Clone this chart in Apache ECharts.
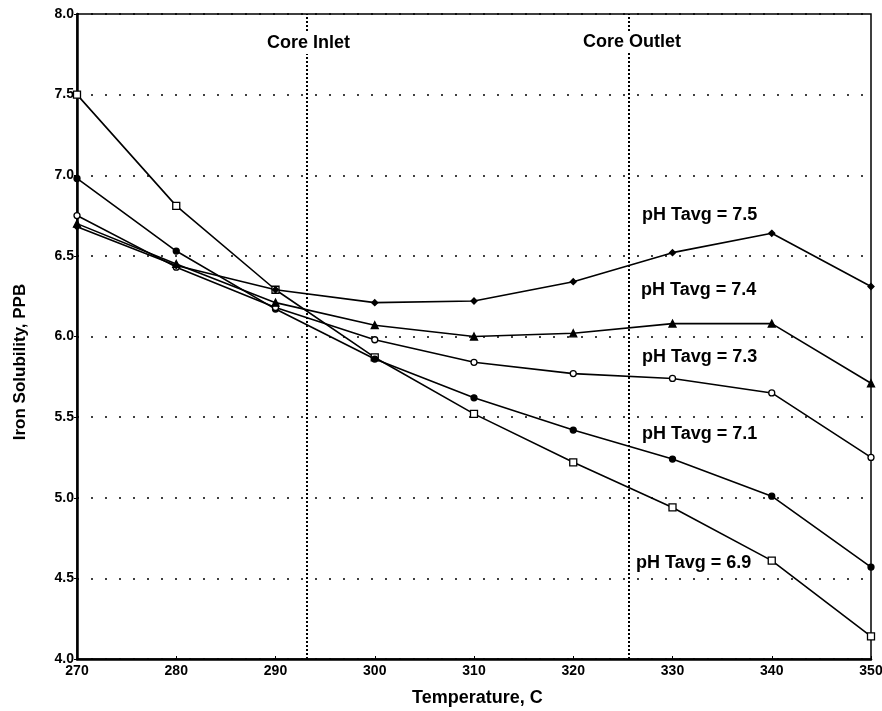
<!DOCTYPE html>
<html>
<head>
<meta charset="utf-8">
<script src="https://cdn.jsdelivr.net/npm/echarts@6/dist/echarts.min.js"></script>
<style>html,body{margin:0;padding:0;background:#fff}#c{width:882px;height:711px}</style>
</head>
<body>
<div id="c"></div>
<script>
var temps = [270, 280, 290, 300, 310, 320, 330, 340, 350];
var ph69 = [7.50, 6.81, 6.29, 5.87, 5.52, 5.22, 4.94, 4.61, 4.14];
var ph71 = [6.98, 6.53, 6.17, 5.86, 5.62, 5.42, 5.24, 5.01, 4.57];
var ph73 = [6.75, 6.43, 6.18, 5.98, 5.84, 5.77, 5.74, 5.65, 5.25];
var ph74 = [6.70, 6.45, 6.21, 6.07, 6.00, 6.02, 6.08, 6.08, 5.71];
var ph75 = [6.68, 6.44, 6.29, 6.21, 6.22, 6.34, 6.52, 6.64, 6.31];
var coreLines = [293.1, 325.6];
var coreNames = ['Core Inlet', 'Core Outlet'];
var seriesNames = ['pH Tavg = 6.9', 'pH Tavg = 7.1', 'pH Tavg = 7.3', 'pH Tavg = 7.4', 'pH Tavg = 7.5'];

function pairs(arr){ return temps.map(function(t,i){ return [t, arr[i]]; }); }
var FONT = '"Liberation Sans", Arial, sans-serif';
var chart = echarts.init(document.getElementById('c'));
function mk(name, data, symbol, size, fill){
  return {
    name: name, type: 'line', data: pairs(data), symbol: symbol, symbolSize: size,
    showAllSymbol: true,
    lineStyle: {color: '#000', width: 1.6},
    itemStyle: {color: fill, borderColor: '#000', borderWidth: 1.3},
    z: 3, animation: false
  };
}
var series = [
  mk(seriesNames[0], ph69, 'rect', 7, '#fff'),
  mk(seriesNames[1], ph71, 'circle', 6, '#000'),
  mk(seriesNames[2], ph73, 'circle', 6, '#fff'),
  mk(seriesNames[3], ph74, 'triangle', 7, '#000'),
  mk(seriesNames[4], ph75, 'diamond', 6, '#000'),
  {
    type: 'line', data: [], animation: false,
    markLine: {
      silent: true, symbol: 'none', label: {show: false},
      lineStyle: {color: '#000', type: [2, 2], width: 2},
      data: coreLines.map(function(x){ return {xAxis: x}; })
    }
  }
];
function txt(x, y, s, size, bg){
  return {type: 'text', x: x, y: y, z: 10,
    style: {text: s, font: 'bold ' + size + 'px ' + FONT, fill: '#000',
      align: 'left', verticalAlign: 'middle',
      backgroundColor: bg ? '#fff' : null, padding: bg ? [2, 3] : 0}};
}
chart.setOption({
  animation: false,
  backgroundColor: '#fff',
  grid: {left: 77, right: 11, top: 14, bottom: 52, show: true, borderColor: '#000', borderWidth: 1.5,
    containLabel: false, outerBoundsMode: 'none'},
  xAxis: {
    type: 'value', min: 270, max: 350, interval: 10,
    axisLine: {show: true, lineStyle: {color: '#000', width: 2.5}},
    axisTick: {show: true, inside: true, length: 3, lineStyle: {color: '#000'}},
    splitLine: {show: false},
    axisLabel: {color: '#000', fontFamily: FONT, fontWeight: 'bold', fontSize: 14, margin: 5}
  },
  yAxis: {
    type: 'value', min: 4, max: 8, interval: 0.5,
    axisLine: {show: true, lineStyle: {color: '#000', width: 2.5}},
    axisTick: {show: true, length: 3, lineStyle: {color: '#000'}},
    splitLine: {show: true, lineStyle: {color: '#000', type: [2, 12], width: 1.6}},
    axisLabel: {color: '#000', fontFamily: FONT, fontWeight: 'bold', fontSize: 14, margin: 3,
      formatter: function(v){ return v.toFixed(1); }}
  },
  series: series,
  graphic: [
    txt(264, 43, coreNames[0], 18, true),
    txt(580, 42, coreNames[1], 18, true),
    txt(642, 215, seriesNames[4], 18),
    txt(641, 290, seriesNames[3], 18),
    txt(642, 357, seriesNames[2], 18),
    txt(642, 434, seriesNames[1], 18),
    txt(636, 563, seriesNames[0], 18),
    txt(412, 698, 'Temperature, C', 18),
    {type: 'text', x: 20, y: 362, rotation: Math.PI / 2,
      style: {text: 'Iron Solubility, PPB', font: 'bold 17px ' + FONT, fill: '#000', align: 'center', verticalAlign: 'middle'}}
  ]
});
</script>
</body>
</html>
